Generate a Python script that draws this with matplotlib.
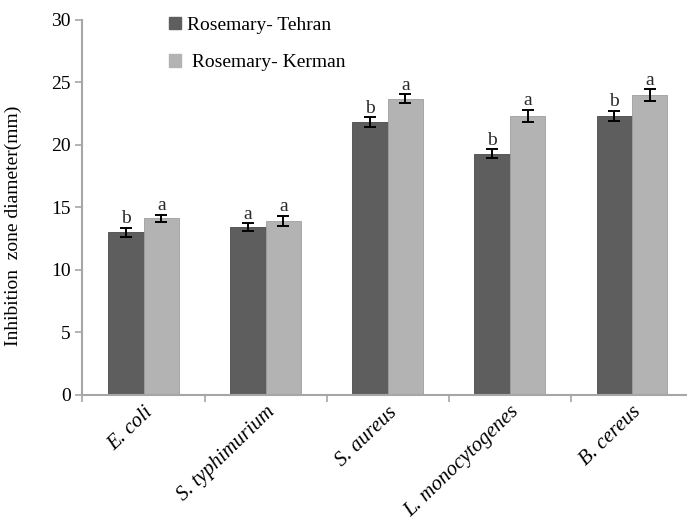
"""Inhibition zone diameters of rosemary extracts (Tehran vs Kerman)."""

import matplotlib

matplotlib.use("Agg")
import matplotlib.pyplot as plt
import numpy as np
from matplotlib.patches import Patch

bacteria = ["E. coli", "S. typhimurium", "S. aureus", "L. monocytogenes", "B. cereus"]
tehran = [13.0, 13.4, 21.8, 19.3, 22.3]
kerman = [14.1, 13.9, 23.7, 22.3, 24.0]
tehran_err = [0.35, 0.3, 0.4, 0.35, 0.4]
kerman_err = [0.3, 0.4, 0.35, 0.5, 0.45]
tehran_letters = ["b", "a", "b", "b", "b"]
kerman_letters = ["a", "a", "a", "a", "a"]

DARK = "#5e5e5e"
LIGHT = "#b3b3b3"
AXIS = "#a6a6a6"
SERIF = "Liberation Serif"

fig = plt.figure(figsize=(6.87, 5.26), dpi=100)
ax = fig.add_axes([0.12, 0.25, 0.88, 0.712])

x = np.arange(len(bacteria))
w = 0.29
ax.bar(x - w / 2, tehran, w, color=DARK, edgecolor="#4a4a4a", linewidth=0.6)
ax.bar(x + w / 2, kerman, w, color=LIGHT, edgecolor="#9e9e9e", linewidth=0.6)
ax.errorbar(x - w / 2, tehran, yerr=tehran_err, fmt="none", ecolor="black",
            elinewidth=1.4, capsize=4, capthick=1.4)
ax.errorbar(x + w / 2, kerman, yerr=kerman_err, fmt="none", ecolor="black",
            elinewidth=1.4, capsize=4, capthick=1.4)

for xi, v, e, s in zip(x - w / 2, tehran, tehran_err, tehran_letters):
    ax.text(xi, v + e + 0.05, s, ha="center", va="bottom", family=SERIF,
            fontsize=14, color="#2a2a2a")
for xi, v, e, s in zip(x + w / 2, kerman, kerman_err, kerman_letters):
    ax.text(xi, v + e + 0.05, s, ha="center", va="bottom", family=SERIF,
            fontsize=14, color="#2a2a2a")

ax.set_xlim(-0.5, 4.45)
ax.set_ylim(0, 30)
ax.set_yticks(range(0, 31, 5))
ax.set_xticks(np.arange(-0.5, 4.5, 1.0))
ax.set_xticklabels([])
ax.set_xticks(x, minor=True)
ax.set_xticklabels(bacteria, minor=True, rotation=44, ha="right",
                   rotation_mode="anchor", family=SERIF, style="italic",
                   fontsize=15)
ax.tick_params(axis="x", which="minor", length=0, pad=6)
ax.tick_params(axis="x", which="major", length=5, color=AXIS, width=1.2)
ax.tick_params(axis="y", length=5, color=AXIS, width=1.2, labelsize=14)
for lab in ax.get_yticklabels():
    lab.set_family(SERIF)

for side in ("top", "right"):
    ax.spines[side].set_visible(False)
for side in ("left", "bottom"):
    ax.spines[side].set_color(AXIS)
    ax.spines[side].set_linewidth(1.5)

ax.set_ylabel("Inhibition  zone diameter(mm)", family=SERIF, fontsize=14)
ax.yaxis.set_label_coords(-0.1, 0.45)

handles = [Patch(color=DARK), Patch(color=LIGHT)]
ax.legend(handles, ["Rosemary- Tehran", " Rosemary- Kerman"], loc="upper left",
          bbox_to_anchor=(0.115, 1.055), frameon=False, handlelength=0.6,
          handleheight=0.6, handletextpad=0.3, labelspacing=1.05,
          prop={"family": SERIF, "size": 14})

fig.savefig("out.png", dpi=100)
